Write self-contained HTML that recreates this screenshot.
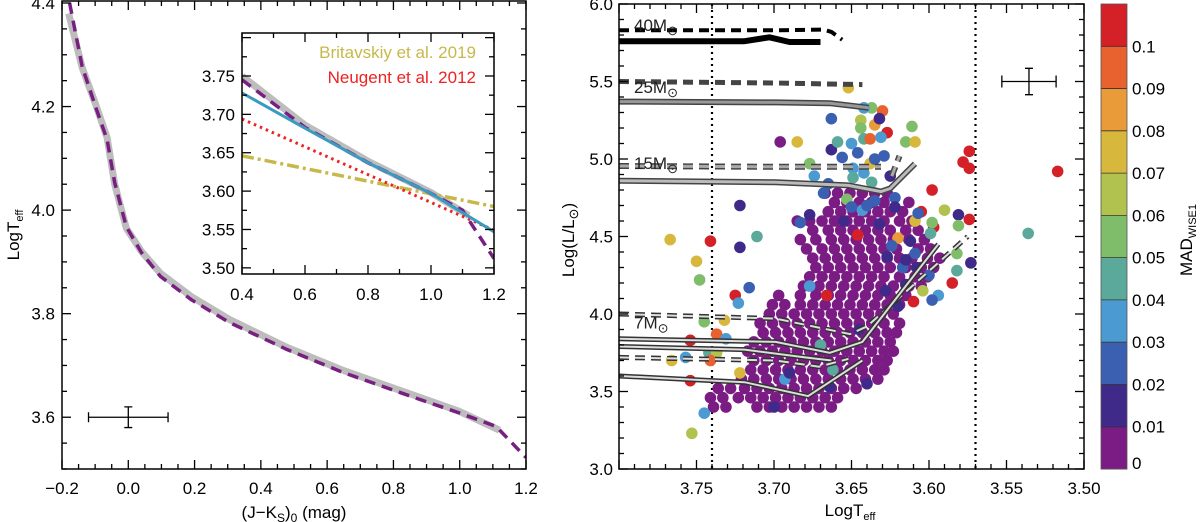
<!DOCTYPE html>
<html><head><meta charset="utf-8"><style>
body{margin:0;background:#fff}
svg{display:block;font-family:"Liberation Sans",sans-serif}
</style></head><body>
<svg id="fig" width="1200" height="522" viewBox="0 0 1200 522">
<g id="L"></g>
<g id="I"></g>
<g id="R"></g>
<g id="C"></g>
</svg>
<script>
// ---------- left panel data ----------
const jkColor = [-0.177,-0.139,-0.099,-0.064,-0.041,-0.006,0.040,0.097,0.190,0.305,0.478,0.650,0.881,0.996,1.110,1.200];
const jkTeff  = [4.40,4.277,4.20,4.136,4.053,3.968,3.918,3.872,3.827,3.783,3.731,3.686,3.634,3.609,3.582,3.522];
const greyColor = [-0.18,-0.139,-0.099,-0.064,-0.041,-0.006,0.040,0.097,0.190,0.305,0.478,0.650,0.881,0.996,1.12];
const greyTeff  = [4.38,4.275,4.205,4.14,4.05,3.965,3.92,3.878,3.833,3.789,3.735,3.69,3.638,3.612,3.575];
const leftXTicks = ["−0.2","0.0","0.2","0.4","0.6","0.8","1.0","1.2"];
const leftYTicks = ["3.6","3.8","4.0","4.2","4.4"];
// ---------- inset data ----------
const insPurpleX=[0.4,0.6,0.8,1.0,1.1,1.2], insPurpleY=[3.745,3.683,3.637,3.597,3.575,3.512];
const insGreyX=[0.4,0.6,0.8,1.0,1.12], insGreyY=[3.75,3.686,3.639,3.598,3.568];
const insBlueX=[0.4,0.6,0.8,1.0,1.2], insBlueY=[3.728,3.682,3.637,3.597,3.547];
const insRedX=[0.4,1.2], insRedY=[3.694,3.549];
const insYellowX=[0.4,1.2], insYellowY=[3.646,3.580];
const insXTicks=["0.4","0.6","0.8","1.0","1.2"];
const insYTicks=["3.50","3.55","3.60","3.65","3.70","3.75"];
// ---------- right panel data ----------
const purpleRows=[
[3.40,[3.739,3.731,3.711,3.703,3.695,3.687,3.679,3.671,3.663]],
[3.46,[3.741,3.733,3.723,3.715,3.707,3.699,3.691,3.683,3.675,3.667,3.659]],
[3.52,[3.736,3.728,3.719,3.711,3.703,3.695,3.687,3.679,3.671,3.663,3.655,3.647]],
[3.58,[3.721,3.713,3.705,3.697,3.689,3.681,3.673,3.665,3.657,3.649,3.641,3.633]],
[3.64,[3.715,3.707,3.699,3.691,3.683,3.675,3.667,3.659,3.651,3.643,3.635,3.629]],
[3.70,[3.713,3.705,3.697,3.689,3.681,3.673,3.665,3.657,3.649,3.641,3.633,3.627]],
[3.76,[3.717,3.709,3.701,3.693,3.685,3.677,3.669,3.661,3.653,3.645,3.637,3.629,3.623]],
[3.82,[3.713,3.705,3.697,3.689,3.681,3.673,3.665,3.657,3.649,3.641,3.633,3.625]],
[3.88,[3.707,3.699,3.691,3.683,3.675,3.667,3.659,3.651,3.643,3.635,3.627,3.621]],
[3.94,[3.709,3.701,3.693,3.685,3.677,3.669,3.661,3.653,3.645,3.637,3.629,3.619]],
[4.00,[3.703,3.695,3.687,3.679,3.671,3.663,3.655,3.647,3.639,3.631,3.623]],
[4.06,[3.701,3.693,3.683,3.675,3.667,3.659,3.651,3.643,3.635,3.627,3.619]],
[4.12,[3.697,3.683,3.673,3.665,3.657,3.649,3.641,3.633,3.625,3.615]],
[4.18,[3.681,3.671,3.663,3.655,3.647,3.639,3.631,3.623,3.613,3.605]],
[4.24,[3.677,3.669,3.661,3.653,3.645,3.637,3.629,3.619,3.609,3.601]],
[4.30,[3.673,3.665,3.657,3.649,3.641,3.633,3.625,3.615,3.605,3.597]],
[4.36,[3.675,3.667,3.659,3.651,3.643,3.635,3.627,3.619,3.611,3.601,3.593]],
[4.42,[3.679,3.669,3.661,3.653,3.645,3.637,3.629,3.621,3.607,3.599]],
[4.48,[3.683,3.673,3.663,3.655,3.647,3.639,3.631,3.623,3.613,3.603]],
[4.54,[3.675,3.665,3.657,3.649,3.641,3.633,3.625,3.615,3.607]],
[4.60,[3.685,3.677,3.669,3.661,3.653,3.645,3.637,3.629,3.619,3.611]],
[4.66,[3.665,3.657,3.649,3.641,3.633,3.625,3.617]],
[4.72,[3.661,3.653,3.645,3.637,3.629,3.613]],
[4.78,[3.667,3.659,3.651,3.643,3.635,3.627]]
];
const starTeff=[3.767,3.741,3.750,3.748,3.725,3.723,3.716,3.711,3.722,3.722,3.696,3.685,3.677,3.683,3.677,3.663,3.663,3.659,3.652,3.650,3.644,3.644,3.642,3.638,3.635,3.630,3.632,3.627,3.631,3.637,3.642,3.611,3.615,3.609,3.656,3.646,3.638,3.635,3.629,3.649,3.649,3.642,3.637,3.674,3.665,3.653,3.643,3.650,3.635,3.625,3.622,3.622,3.598,3.605,3.609,3.607,3.597,3.598,3.590,3.581,3.581,3.574,3.599,3.620,3.646,3.574,3.578,3.574,3.517,3.536,3.573,3.582,3.582,3.585,3.594,3.598,3.604,3.610,3.615,3.617,3.609,3.666,3.677,3.627,3.624,3.745,3.732,3.737,3.731,3.742,3.737,3.757,3.741,3.766,3.754,3.722,3.745,3.753,3.693,3.664,3.670,3.662,3.754,3.615,3.608,3.628,3.620,3.645,3.640,3.690,3.700,3.655,3.632,3.612,3.600,3.640,3.668];
const starLum=[4.48,4.47,4.34,4.22,4.12,4.07,4.17,4.50,4.70,4.43,5.11,5.11,4.97,4.59,4.64,5.06,5.26,5.11,5.46,5.10,5.25,5.20,5.13,5.13,5.22,5.31,5.26,5.17,5.14,5.33,5.33,5.21,5.11,5.11,5.01,5.04,4.97,5.00,5.02,4.94,4.88,4.91,4.85,4.89,4.84,4.74,4.67,4.69,4.73,4.89,4.75,4.69,4.80,4.66,4.60,4.65,4.56,4.59,4.67,4.64,4.57,4.61,4.52,4.49,4.51,5.05,4.98,4.94,4.92,4.52,4.33,4.39,4.28,4.20,4.12,4.09,4.15,4.08,4.19,4.30,4.39,4.12,4.18,4.37,4.44,3.95,3.96,3.87,3.84,3.75,3.75,3.72,3.70,3.70,3.57,3.62,3.36,3.23,3.58,3.53,3.80,3.64,3.83,4.35,4.30,4.15,4.05,3.90,3.55,3.62,3.40,4.60,4.58,4.47,4.25,4.70,4.78];
const starMad=[.075,.1,.075,.055,.1,.035,.025,.045,.015,.015,.005,.075,.055,.025,.015,.015,.025,.045,.075,.035,.065,.055,.045,.095,.085,.095,.015,.1,.035,.055,.035,.055,.055,.075,.025,.025,.075,.025,.025,.035,.045,.035,.045,.035,.025,.055,.035,.025,.025,.015,.025,.015,.1,.1,.075,.025,.1,.055,.065,.015,.055,.1,.045,.085,.1,.1,.1,.1,.1,.045,.015,.055,.045,.1,.035,.025,.065,.1,.015,.025,.025,.1,.035,.015,.025,.055,.075,.095,.035,.045,.065,.035,.095,.075,.1,.075,.035,.065,.035,.015,.045,.045,.1,.015,.015,.015,.015,.015,.015,.015,.015,.015,.015,.015,.025,.025,.025];
const trackDefs=[
 {name:"track-40-dashed",dash:true,c:"#000",w:4,inner:null,T:[3.80,3.699,3.668,3.663,3.656],L:[5.83,5.83,5.835,5.82,5.77]},
 {name:"track-40-solid",dash:false,c:"#000",w:6,inner:null,T:[3.80,3.719,3.703,3.690,3.670],L:[5.76,5.76,5.785,5.755,5.755]},
 {name:"track-25-dashed",dash:true,c:"#444",w:5,inner:null,T:[3.80,3.699,3.643],L:[5.50,5.49,5.48]},
 {name:"track-25-solid",dash:false,c:"#444",w:6,inner:"#999",T:[3.80,3.699,3.664,3.647,3.639],L:[5.37,5.365,5.36,5.34,5.33]},
 {name:"track-15-dashed",dash:true,c:"#444",w:6,inner:"#aaa",T:[3.80,3.699,3.631],L:[4.955,4.95,4.95]},
 {name:"track-15-dashed-loop",dash:true,c:"#444",w:6,inner:"#aaa",T:[3.624,3.619],L:[4.89,5.02]},
 {name:"track-15-solid",dash:false,c:"#444",w:6,inner:"#bbb",T:[3.80,3.699,3.652,3.631,3.625,3.609],L:[4.86,4.85,4.83,4.79,4.81,4.97]},
 {name:"track-7-dashed-a",dash:true,c:"#333",w:5,inner:"#ddd",T:[3.80,3.699,3.651,3.640,3.575],L:[4.00,3.97,3.87,3.92,4.50]},
 {name:"track-7-solid-a",dash:false,c:"#333",w:5,inner:"#ddd",T:[3.80,3.699,3.664,3.643,3.594],L:[3.84,3.82,3.75,3.82,4.45]},
 {name:"track-7-solid-b",dash:false,c:"#333",w:5,inner:"#ddd",T:[3.80,3.719,3.680,3.663],L:[3.79,3.77,3.72,3.70]},
 {name:"track-7-dashed-b",dash:true,c:"#333",w:5,inner:"#ddd",T:[3.80,3.699,3.671,3.652],L:[3.72,3.70,3.66,3.71]},
 {name:"track-7-solid-c",dash:false,c:"#333",w:5,inner:"#ddd",T:[3.80,3.719,3.678,3.643],L:[3.60,3.56,3.47,3.70]}
];
const trackLabels=["40M","25M","15M","7M"], trackLabelL=[5.84,5.44,4.95,3.92];
const rightXTicks=["3.75","3.70","3.65","3.60","3.55","3.50"];
const rightYTicks=["3.0","3.5","4.0","4.5","5.0","5.5","6.0"];
const cbColors=["#7b1c84","#3f2a8a","#3b5fb1","#4b9bd2","#5ba99b","#80bd6b","#b2c24f","#d7b83c","#e99b39","#e8622f","#d42027"];
const cbLabels=["0","0.01","0.02","0.03","0.04","0.05","0.06","0.07","0.08","0.09","0.1"];

const NS="http://www.w3.org/2000/svg";
function mk(parent,tag,attrs,name){const e=document.createElementNS(NS,tag);for(const k in attrs)e.setAttribute(k,attrs[k]);


parent.appendChild(e);return e;}
function txt(parent,x,y,s,name,size,anchor,extra){const t=mk(parent,'text',Object.assign({x:x,y:y,'font-size':size||17,'text-anchor':anchor||'middle'},extra||{}),name);t.textContent=s;return t;}
function lin(d0,d1,p0,p1){return v=>p0+(v-d0)/(d1-d0)*(p1-p0);}
function path(xs,ys,fx,fy){return xs.map((v,i)=>(i?'L':'M')+fx(v).toFixed(1)+','+fy(ys[i]).toFixed(1)).join('');}
function ticks(g,fx,fy,x0,x1,y0,y1,xs,xstep,ys,ystep,maj){
 for(let v=xs[0];v<=xs[1]+1e-9;v+=xstep){const p=fx(v);const m=Math.abs(Math.round(v/maj[0])*maj[0]-v)<1e-6;const l=m?9:5;
  mk(g,'line',{x1:p,x2:p,y1:y1,y2:y1-l,stroke:'#000','stroke-width':1.3},'x-tick');mk(g,'line',{x1:p,x2:p,y1:y0,y2:y0+l,stroke:'#000','stroke-width':1.3},'x-tick-top');}
 for(let v=ys[0];v<=ys[1]+1e-9;v+=ystep){const p=fy(v);const m=Math.abs(Math.round(v/maj[1])*maj[1]-v)<1e-6;const l=m?9:5;
  mk(g,'line',{x1:x0,x2:x0+l,y1:p,y2:p,stroke:'#000','stroke-width':1.3},'y-tick');mk(g,'line',{x1:x1,x2:x1-l,y1:p,y2:p,stroke:'#000','stroke-width':1.3},'y-tick-right');}
}
// ===== Left =====
(function(){
 const g=document.getElementById('L');
 const X0=62,X1=526,Y0=1,Y1=469;
 const fx=lin(-0.2,1.2,X0,X1), fy=lin(3.5,4.4,Y1,Y0+2);
 const clip=mk(g,'clipPath',{id:'clipL'},'clip');mk(clip,'rect',{x:X0,y:Y0,width:X1-X0,height:Y1-Y0},'clip-rect');
 const cg=mk(g,'g',{'clip-path':'url(#clipL)'},'plot-area');
 mk(cg,'path',{d:path(greyColor,greyTeff,fx,fy),fill:'none',stroke:'#bdbdbd','stroke-width':7},'grey-relation');
 mk(cg,'path',{d:path(jkColor,jkTeff,fx,fy),fill:'none',stroke:'#7a1f82','stroke-width':3.5,'stroke-dasharray':'11,7'},'purple-fit');
 const ex=fx(0),ey=fy(3.6);
 mk(g,'path',{d:`M${fx(-0.12)},${ey}H${fx(0.12)}M${fx(-0.12)},${ey-5}v10M${fx(0.12)},${ey-5}v10M${ex},${fy(3.62)}V${fy(3.58)}M${ex-4},${fy(3.62)}h8M${ex-4},${fy(3.58)}h8`,stroke:'#000','stroke-width':1.3,fill:'none'},'error-bar');
 mk(g,'rect',{x:X0,y:Y0,width:X1-X0,height:Y1-Y0,fill:'none',stroke:'#000','stroke-width':1.5},'frame');
 ticks(g,fx,fy,X0,X1,Y0,Y1,[-0.2,1.2],0.05,[3.5,4.4],0.05,[0.2,0.2]);
 leftXTicks.forEach((s,i)=>txt(g,fx(-0.2+0.2*i),494,s,'x-tick-label'));
 leftYTicks.forEach((s,i)=>txt(g,55,fy(3.6+0.2*i)+6,s,'y-tick-label',17,'end'));
 const xt=txt(g,294,518,'','x-axis-title',17);xt.innerHTML='(J−K<tspan font-size="12" dy="4">S</tspan><tspan dy="-4">)</tspan><tspan font-size="12" dy="4">0</tspan><tspan dy="-4"> (mag)</tspan>';
 const yt=txt(g,0,0,'','y-axis-title',17,'middle',{transform:'translate(19,235) rotate(-90)'});yt.innerHTML='LogT<tspan font-size="11" dy="4">eff</tspan>';
})();
// ===== Inset =====
(function(){
 const g=document.getElementById('I');
 const X0=242,X1=494,Y0=33,Y1=274;
 const fx=lin(0.4,1.2,X0,X1), fy=lin(3.492,3.806,Y1,Y0);
 mk(g,'rect',{x:X0,y:Y0,width:X1-X0,height:Y1-Y0,fill:'#fff'},'inset-bg');
 const clip=mk(g,'clipPath',{id:'clipI'},'clip');mk(clip,'rect',{x:X0,y:Y0,width:X1-X0,height:Y1-Y0},'clip-rect');
 const cg=mk(g,'g',{'clip-path':'url(#clipI)'},'inset-area');
 mk(cg,'path',{d:path(insGreyX,insGreyY,fx,fy),fill:'none',stroke:'#bdbdbd','stroke-width':7},'inset-grey');
 mk(cg,'path',{d:path(insYellowX,insYellowY,fx,fy),fill:'none',stroke:'#c8b84a','stroke-width':3.5,'stroke-dasharray':'12,4,3,4'},'britavskiy-line');
 mk(cg,'path',{d:path(insRedX,insRedY,fx,fy),fill:'none',stroke:'#ee2222','stroke-width':3,'stroke-dasharray':'2.5,4'},'neugent-line');
 mk(cg,'path',{d:path(insPurpleX,insPurpleY,fx,fy),fill:'none',stroke:'#7a1f82','stroke-width':3.5,'stroke-dasharray':'11,7'},'inset-purple');
 mk(cg,'path',{d:path(insBlueX,insBlueY,fx,fy),fill:'none',stroke:'#3a9ac0','stroke-width':3},'inset-blue');
 mk(g,'rect',{x:X0,y:Y0,width:X1-X0,height:Y1-Y0,fill:'none',stroke:'#000','stroke-width':1.5},'inset-frame');
 ticks(g,fx,fy,X0,X1,Y0,Y1,[0.4,1.2],0.1,[3.5,3.8],0.025,[0.2,0.05]);
 insXTicks.forEach((s,i)=>txt(g,fx(0.4+0.2*i),300,s,'inset-x-tick-label'));
 insYTicks.forEach((s,i)=>txt(g,235,fy(3.5+0.05*i)+6,s,'inset-y-tick-label',17,'end'));
 txt(g,476,58,'Britavskiy et al. 2019','legend-britavskiy',17,'end',{fill:'#c8b84a'});
 txt(g,476,83,'Neugent et al. 2012','legend-neugent',17,'end',{fill:'#ee2222'});
})();
// ===== Right =====
(function(){
 const g=document.getElementById('R');
 const X0=619,X1=1084,Y0=4,Y1=469;
 const fx=lin(3.80,3.50,X0,X1), fy=lin(3.0,6.0,Y1,Y0);
 const clip=mk(g,'clipPath',{id:'clipR'},'clip');mk(clip,'rect',{x:X0,y:Y0,width:X1-X0,height:Y1-Y0},'clip-rect');
 const cg=mk(g,'g',{'clip-path':'url(#clipR)'},'plot-area');
 [3.74,3.57].forEach(v=>mk(cg,'line',{x1:fx(v),x2:fx(v),y1:Y0,y2:Y1,stroke:'#000','stroke-width':2.2,'stroke-dasharray':'2,4'},'teff-limit-line'));
 function col(m){return cbColors[Math.min(10,Math.floor(m/0.01))];}
 purpleRows.forEach(r=>r[1].forEach(t=>mk(cg,'circle',{cx:fx(t),cy:fy(r[0]),r:5.8,fill:cbColors[0]},'star-point')));
 starTeff.forEach((t,i)=>mk(cg,'circle',{cx:fx(t),cy:fy(starLum[i]),r:5.8,fill:col(starMad[i])},'star-point'));
 trackDefs.forEach(d=>{const p=path(d.T,d.L,fx,fy);
  const a={d:p,fill:'none',stroke:d.c,'stroke-width':d.w,'stroke-linejoin':'round'};if(d.dash)a['stroke-dasharray']='10,6';
  mk(cg,'path',a,d.name);
  if(d.inner){const b={d:p,fill:'none',stroke:d.inner,'stroke-width':d.w-3};if(d.dash)b['stroke-dasharray']='10,6';mk(cg,'path',b,d.name+'-inner');}
 });
 trackLabels.forEach((s,i)=>{const t=txt(g,634,fy(trackLabelL[i])+2,'','mass-label-'+s,17,'start',{fill:'#222'});t.innerHTML=s+'<tspan font-size="13" dy="4">⊙</tspan>';});
 const ex=fx(3.5355),ey=fy(5.5);
 mk(g,'path',{d:`M${fx(3.553)},${ey}H${fx(3.518)}M${fx(3.553)},${ey-6}v12M${fx(3.518)},${ey-6}v12M${ex},${fy(5.585)}V${fy(5.415)}M${ex-4},${fy(5.585)}h8M${ex-4},${fy(5.415)}h8`,stroke:'#000','stroke-width':1.3,fill:'none'},'error-bar');
 mk(g,'rect',{x:X0,y:Y0,width:X1-X0,height:Y1-Y0,fill:'none',stroke:'#000','stroke-width':1.5},'frame');
 ticks(g,fx,fy,X0,X1,Y0,Y1,[3.50,3.80],0.01,[3.0,6.0],0.1,[0.05,0.5]);
 rightXTicks.forEach((s,i)=>txt(g,fx(3.75-0.05*i),494,s,'x-tick-label'));
 rightYTicks.forEach((s,i)=>txt(g,613,fy(3.0+0.5*i)+6,s,'y-tick-label',17,'end'));
 const xt=txt(g,850,516,'','x-axis-title',17);xt.innerHTML='LogT<tspan font-size="11" dy="4">eff</tspan>';
 const yt=txt(g,0,0,'','y-axis-title',17,'middle',{transform:'translate(574,240) rotate(-90)'});yt.innerHTML='Log(L/L<tspan font-size="13" dy="4">⊙</tspan><tspan dy="-4">)</tspan>';
})();
// ===== Colorbar =====
(function(){
 const g=document.getElementById('C');
 const fy=lin(0,0.11,469,4);
 cbColors.forEach((c,i)=>mk(g,'rect',{x:1101,y:fy((i+1)*0.01),width:26,height:fy(i*0.01)-fy((i+1)*0.01)+0.5,fill:c},'colorbar-band'));
 for(let i=1;i<11;i++)mk(g,'line',{x1:1101,x2:1127,y1:fy(i*0.01),y2:fy(i*0.01),stroke:'#333','stroke-width':0.8},'colorbar-divider');
 mk(g,'rect',{x:1101,y:4,width:26,height:465,fill:'none',stroke:'#555','stroke-width':0.8},'colorbar-frame');
 cbLabels.forEach((s,i)=>txt(g,1132,fy(i*0.01)+(i==0?0:6),s,'colorbar-label',17,'start'));
 const t=txt(g,0,0,'','colorbar-title',17,'middle',{transform:'translate(1192,240) rotate(-90)'});t.innerHTML='MAD<tspan font-size="11" dy="4">WISE1</tspan>';
})();
</script>
</body></html>
